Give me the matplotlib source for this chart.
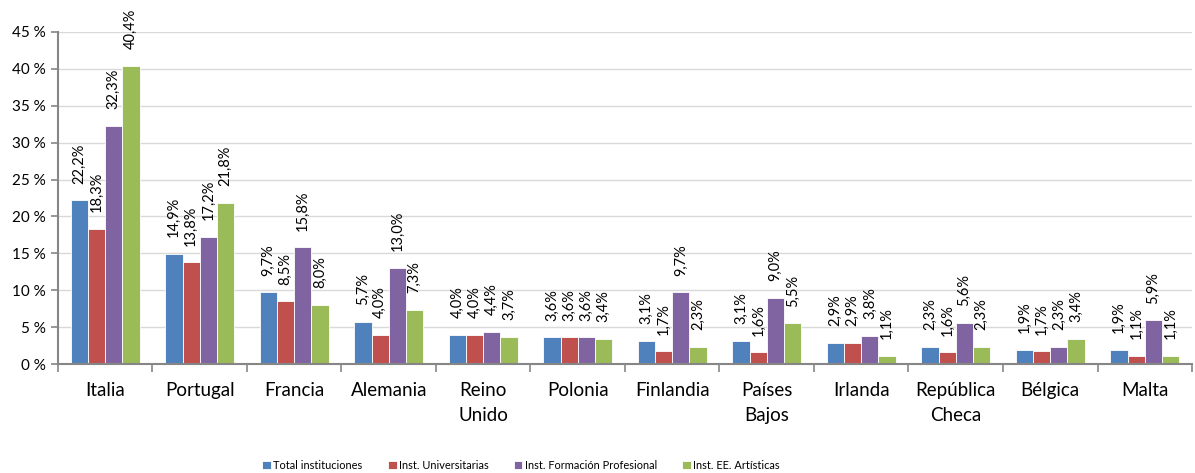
import matplotlib.pyplot as plt
import numpy as np
from matplotlib.ticker import FixedLocator

plt.rcParams['font.family'] = ['Lato', 'DejaVu Sans']

paises = ['Italia', 'Portugal', 'Francia', 'Alemania', 'Reino\nUnido', 'Polonia',
          'Finlandia', 'Países\nBajos', 'Irlanda', 'República\nCheca', 'Bélgica', 'Malta']
total = [22.2, 14.9, 9.7, 5.7, 4.0, 3.6, 3.1, 3.1, 2.9, 2.3, 1.9, 1.9]
univ = [18.3, 13.8, 8.5, 4.0, 4.0, 3.6, 1.7, 1.6, 2.9, 1.6, 1.7, 1.1]
fp = [32.3, 17.2, 15.8, 13.0, 4.4, 3.6, 9.7, 9.0, 3.8, 5.6, 2.3, 5.9]
artes = [40.4, 21.8, 8.0, 7.3, 3.7, 3.4, 2.3, 5.5, 1.1, 2.3, 3.4, 1.1]

series = [
    ('Total instituciones', total, '#4F81BD'),
    ('Inst. Universitarias', univ, '#C0504D'),
    ('Inst. Formación Profesional', fp, '#8064A2'),
    ('Inst. EE. Artísticas', artes, '#9BBB59'),
]

fig = plt.figure(figsize=(11.95, 4.73), dpi=100)
ax = fig.add_axes([0.0485, 0.2304, 0.949, 0.702])

x = np.arange(len(paises))
w = 0.182
for i, (nombre, vals, color) in enumerate(series):
    pos = x + (i - 1.5) * w
    bars = ax.bar(pos, vals, w, color=color, label=nombre, edgecolor='white', linewidth=0.6, zorder=2)
    for b, v in zip(bars, vals):
        ax.annotate(f'{v:.1f}%'.replace('.', ','), (b.get_x() + b.get_width() / 2, v),
                    xytext=(0, 12), textcoords='offset points', rotation=90,
                    ha='center', va='bottom', fontsize=10.5, color='black')

ax.set_xlim(-0.5, len(paises) - 0.5)
ax.set_ylim(0, 45)
ax.set_yticks(np.arange(0, 46, 5))
ax.set_yticklabels([f'{t} %' for t in range(0, 46, 5)], fontsize=11)
ax.yaxis.grid(True, color='#D9D9D9', linewidth=1, zorder=0)
ax.set_axisbelow(True)

ax.set_xticks(x)
ax.set_xticklabels(paises, fontsize=13.5, linespacing=1.55)
ax.tick_params(axis='x', length=0, pad=13)
ax.xaxis.set_minor_locator(FixedLocator(np.arange(-0.5, len(paises), 1)))
ax.tick_params(axis='x', which='minor', length=6, color='#868686', width=1.2)
ax.tick_params(axis='y', length=5, color='#868686', width=1.2)

for s in ['top', 'right']:
    ax.spines[s].set_visible(False)
for s in ['left', 'bottom']:
    ax.spines[s].set_color('#868686')
    ax.spines[s].set_linewidth(1.5)

fig.legend(loc='lower center', bbox_to_anchor=(0.436, -0.016), ncol=4, frameon=False,
           fontsize=7.9, handlelength=0.8, handleheight=0.8, handletextpad=0.2, columnspacing=2.3)

fig.savefig('out.png', dpi=100)
